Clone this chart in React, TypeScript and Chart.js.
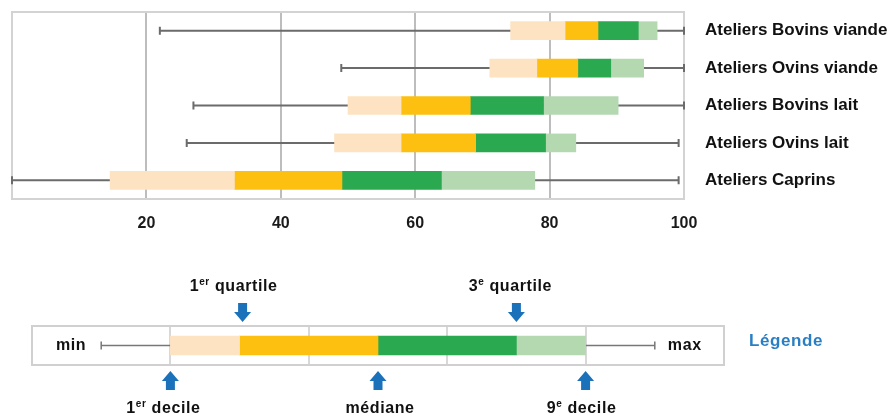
import React, { useEffect, useRef } from 'react';
import { Chart, registerables } from 'chart.js';

Chart.register(...registerables);

// ---------- data ----------
const categories = [
  'Ateliers Bovins viande',
  'Ateliers Ovins viande',
  'Ateliers Bovins lait',
  'Ateliers Ovins lait',
  'Ateliers Caprins',
];
const minValues = [22, 49, 27, 26, 0];
const decile1 = [74.2, 71.1, 50, 48, 14.6];
const quartile1 = [82.3, 78.1, 57.9, 57.9, 33.1];
const medians = [87.2, 84.2, 68.2, 69, 49.1];
const quartile3 = [93.2, 89.1, 79.1, 79.4, 63.9];
const decile9 = [96, 94, 90.2, 83.9, 77.8];
const maxValues = [100, 100, 100, 99.2, 99.2];
const xTicks = [20, 40, 60, 80, 100];

// legend example
const legendMin = [10];
const legendD1 = [20];
const legendQ1 = [30];
const legendMed = [50];
const legendQ3 = [70];
const legendD9 = [80];
const legendMax = [90];
const topLabels = [
  ['1', 'er', ' quartile'],
  ['3', 'e', ' quartile'],
];
const bottomLabels = [
  ['1', 'er', ' decile'],
  ['médiane', '', ''],
  ['9', 'e', ' decile'],
];

// ---------- style ----------
const FONT = "'Liberation Sans', Arial, sans-serif";
const C_PEACH = '#FDE3C2';
const C_GOLD = '#FDC010';
const C_GREEN = '#2BA950';
const C_LGREEN = '#B4D9B1';
const C_WHISKER = '#6b6b6b';
const C_BORDER = '#d3d3d3';
const C_GRID = '#bdbdbd';
const C_ARROW = '#1b72ba';

const segs = (lo: number[], hi: number[]) => lo.map((v, i) => [v, hi[i]]);

const makeDatasets = (d1: number[], q1: number[], md: number[], q3: number[], d9: number[], thick: number) => [
  { data: segs(d1, q1), backgroundColor: C_PEACH },
  { data: segs(q1, md), backgroundColor: C_GOLD },
  { data: segs(md, q3), backgroundColor: C_GREEN },
  { data: segs(q3, d9), backgroundColor: C_LGREEN },
].map((d) => ({ ...d, grouped: false, barThickness: thick, borderWidth: 0, borderSkipped: false }));

const frame = {
  id: 'frame',
  beforeDatasetsDraw(chart: any, _a: any, opts: any) {
    const { ctx, chartArea: a } = chart;
    ctx.save();
    ctx.strokeStyle = opts.color;
    ctx.lineWidth = 2;
    ctx.strokeRect(a.left, a.top, a.right - a.left, a.bottom - a.top);
    ctx.restore();
  },
};

const whiskers = {
  id: 'whiskers',
  beforeDatasetsDraw(chart: any, _a: any, opts: any) {
    const { ctx, scales } = chart;
    const x = scales.x;
    const meta = chart.getDatasetMeta(0);
    ctx.save();
    ctx.strokeStyle = opts.color;
    ctx.lineWidth = opts.width;
    (opts.min as number[]).forEach((mn, i) => {
      const yc = meta.data[i].y;
      const x0 = x.getPixelForValue(mn);
      const x1 = x.getPixelForValue(opts.max[i]);
      const h = opts.cap / 2;
      ctx.beginPath();
      ctx.moveTo(x0, yc);
      ctx.lineTo(x1, yc);
      ctx.moveTo(x0, yc - h);
      ctx.lineTo(x0, yc + h);
      ctx.moveTo(x1, yc - h);
      ctx.lineTo(x1, yc + h);
      ctx.stroke();
    });
    ctx.restore();
  },
};

const legendDecor = {
  id: 'legendDecor',
  afterDraw(chart: any) {
    const { ctx, chartArea, scales } = chart;
    const x = scales.x;
    const yc = chart.getDatasetMeta(0).data[0].y;
    const bold = (s: number) => `bold ${s}px ${FONT}`;
    ctx.save();
    ctx.letterSpacing = '0.6px';
    ctx.fillStyle = '#111';
    const drawParts = (parts: string[], cx: number, base: number) => {
      const [a, sup, b] = parts;
      ctx.font = bold(16);
      const wa = ctx.measureText(a).width;
      const wb = b ? ctx.measureText(b).width : 0;
      ctx.font = bold(10);
      const ws = sup ? ctx.measureText(sup).width : 0;
      let xx = cx - (wa + ws + wb) / 2;
      ctx.textAlign = 'left';
      ctx.textBaseline = 'alphabetic';
      ctx.font = bold(16);
      ctx.fillText(a, xx, base);
      xx += wa;
      if (sup) {
        ctx.font = bold(10);
        ctx.fillText(sup, xx, base - 6);
        xx += ws;
      }
      if (b) {
        ctx.font = bold(16);
        ctx.fillText(b, xx, base);
      }
    };
    const arrow = (cx: number, tipY: number, dir: number) => {
      const headL = 10, headW = 8.5, shaftW = 4.5, len = 19;
      const baseY = tipY - dir * headL;
      const endY = tipY - dir * len;
      ctx.beginPath();
      ctx.moveTo(cx, tipY);
      ctx.lineTo(cx + headW, baseY);
      ctx.lineTo(cx + shaftW, baseY);
      ctx.lineTo(cx + shaftW, endY);
      ctx.lineTo(cx - shaftW, endY);
      ctx.lineTo(cx - shaftW, baseY);
      ctx.lineTo(cx - headW, baseY);
      ctx.closePath();
      ctx.fill();
    };
    // min / max
    ctx.font = bold(16);
    ctx.textBaseline = 'middle';
    ctx.textAlign = 'right';
    ctx.fillText('min', x.getPixelForValue(legendMin[0]) - 15, yc);
    ctx.textAlign = 'left';
    ctx.fillText('max', x.getPixelForValue(legendMax[0]) + 13, yc);
    // Légende
    ctx.save();
    ctx.letterSpacing = '0.6px';
    ctx.fillStyle = '#2a7fc4';
    ctx.font = bold(17);
    ctx.fillText('Légende', chartArea.right + 25, yc - 4);
    ctx.restore();
    // top arrows + labels
    const topVals = [legendQ1[0], legendQ3[0]];
    topVals.forEach((v, i) => {
      const px = x.getPixelForValue(v);
      ctx.fillStyle = C_ARROW;
      arrow(px + (i === 0 ? 3 : 0), chartArea.top - 4, 1);
      ctx.fillStyle = '#111';
      drawParts(topLabels[i], px - 6, chartArea.top - 35);
    });
    const botVals = [legendD1[0], legendMed[0], legendD9[0]];
    const offs = [-7, 2, -4];
    botVals.forEach((v, i) => {
      const px = x.getPixelForValue(v);
      ctx.fillStyle = C_ARROW;
      arrow(px, chartArea.bottom + 6, -1);
      ctx.fillStyle = '#111';
      drawParts(bottomLabels[i], px + offs[i], chartArea.bottom + 48);
    });
    ctx.restore();
  },
};

export default function App() {
  const mainRef = useRef<HTMLCanvasElement>(null);
  const legRef = useRef<HTMLCanvasElement>(null);

  useEffect(() => {
    const main = new Chart(mainRef.current as HTMLCanvasElement, {
      type: 'bar',
      data: {
        labels: categories,
        datasets: makeDatasets(decile1, quartile1, medians, quartile3, decile9, 18) as any,
      },
      plugins: [frame, whiskers],
      options: {
        indexAxis: 'y',
        responsive: false,
        animation: false,
        layout: { padding: { left: 12, top: 12, right: 0, bottom: 21 } },
        plugins: {
          legend: { display: false },
          tooltip: { enabled: false },
          frame: { color: C_BORDER },
          whiskers: { min: minValues, max: maxValues, color: C_WHISKER, width: 2, cap: 8 },
        } as any,
        scales: {
          x: {
            type: 'linear',
            min: 0,
            max: 100,
            afterBuildTicks: (s: any) => {
              s.ticks = xTicks.map((v) => ({ value: v }));
            },
            afterFit: (s: any) => {
              s.height = 40;
              s.paddingLeft = 0;
              s.paddingRight = 0;
            },
            ticks: {
              padding: 15,
              maxRotation: 0,
              color: '#1a1a1a',
              font: { family: FONT, size: 16, weight: 'bold' },
            },
            grid: {
              drawTicks: false,
              lineWidth: 2,
              color: (c: any) => (c.tick && c.tick.value === 100 ? 'rgba(0,0,0,0)' : C_GRID),
            },
            border: { display: false },
          },
          y: {
            type: 'category',
            position: 'right',
            afterFit: (s: any) => {
              s.width = 207;
              s.paddingTop = 0;
              s.paddingBottom = 0;
            },
            grid: { display: false, drawTicks: false },
            border: { display: false },
            ticks: {
              padding: 21,
              crossAlign: 'near',
              color: '#111',
              font: { family: FONT, size: 17, weight: 'bold' },
            },
          },
        } as any,
      },
    });

    const leg = new Chart(legRef.current as HTMLCanvasElement, {
      type: 'bar',
      data: {
        labels: [''],
        datasets: makeDatasets(legendD1, legendQ1, legendMed, legendQ3, legendD9, 19) as any,
      },
      plugins: [frame, whiskers, legendDecor],
      options: {
        indexAxis: 'y',
        responsive: false,
        animation: false,
        layout: { padding: { left: 32, top: 66, right: 167, bottom: 51 } },
        plugins: {
          legend: { display: false },
          tooltip: { enabled: false },
          frame: { color: '#d0d0d0' },
          whiskers: { min: legendMin, max: legendMax, color: '#777', width: 1.5, cap: 8 },
        } as any,
        scales: {
          x: {
            type: 'linear',
            min: 0,
            max: 100,
            afterBuildTicks: (s: any) => {
              s.ticks = [20, 40, 60, 80].map((v) => ({ value: v }));
            },
            afterFit: (s: any) => {
              s.height = 0;
            },
            ticks: { display: false },
            grid: { drawTicks: false, lineWidth: 2, color: '#d8d8d8' },
            border: { display: false },
          },
          y: { display: false },
        } as any,
      },
    });

    return () => {
      main.destroy();
      leg.destroy();
    };
  }, []);

  return (
    <div style={{ position: 'fixed', left: 0, top: 0, width: 891, height: 416, background: '#fff' }}>
      <canvas ref={mainRef} width={891} height={260} style={{ position: 'absolute', left: 0, top: 0 }} />
      <canvas ref={legRef} width={891} height={156} style={{ position: 'absolute', left: 0, top: 260 }} />
    </div>
  );
}
